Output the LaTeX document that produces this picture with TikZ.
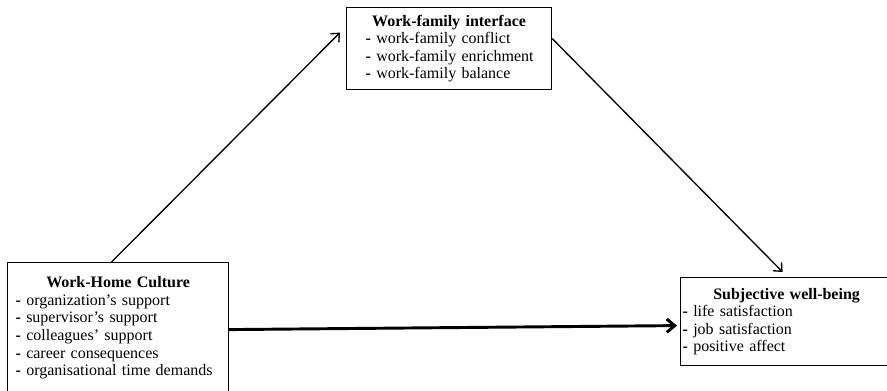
\documentclass[tikz,border=0pt]{standalone}
\usepackage{fontspec}
\setmainfont{Liberation Serif}
\usetikzlibrary{arrows.meta}

\begin{document}
\begin{tikzpicture}[
  font=\fontsize{12pt}{13.2pt}\selectfont,
  box/.style={draw, line width=0.9pt, rectangle, anchor=north west,
    inner ysep=3pt, align=left},
  arr/.style={-{Straight Barb[length=5pt, width=9pt]}, line width=1pt},
  thickarr/.style={-{Straight Barb[length=6pt, width=10pt]}, line width=2.2pt},
]
  \useasboundingbox (0,0) rectangle (665.25pt,293.25pt);

  % Boxes
  \node[box, minimum width=153.75pt, minimum height=61.5pt, inner xsep=4.5pt,
    text width=144.75pt] (wfi) at (259.5pt,288pt)
    {\centerline{\bfseries Work-family interface}\\
     \hspace*{9.75pt}\textbf{-} work-family conflict\\
     \hspace*{9.75pt}\textbf{-} work-family enrichment\\
     \hspace*{9.75pt}\textbf{-} work-family balance};
  \node[box, minimum width=165.75pt, minimum height=98pt, inner xsep=6pt,
    text width=153.75pt] (whc) at (5.25pt,96.75pt)
    {\centerline{\bfseries Work-Home Culture}\\
     \textbf{-} organization’s support\\
     \textbf{-} supervisor’s support\\
     \textbf{-} colleagues’ support\\
     \textbf{-} career consequences\\
     \textbf{-} organisational time demands};
  \node[box, minimum width=159pt, minimum height=66pt, inner xsep=1.5pt,
    text width=156pt] (swb) at (510pt,85.5pt)
    {\centerline{\bfseries Subjective well-being}\\
     \textbf{-} life satisfaction\\
     \textbf{-} job satisfaction\\
     \textbf{-} positive affect};

  % Arrows
  \draw[arr] ([xshift=-4.9pt]whc.north) -- ([shift={(-4.5pt,12pt)}]wfi.west);
  \draw[arr] ([yshift=7.5pt]wfi.east) -- ([shift={(-3pt,3.75pt)}]swb.north);
  \draw[thickarr] ([yshift=-1.25pt]whc.east) -- ([shift={(-2.25pt,-3pt)}]swb.west);
\end{tikzpicture}
\end{document}
